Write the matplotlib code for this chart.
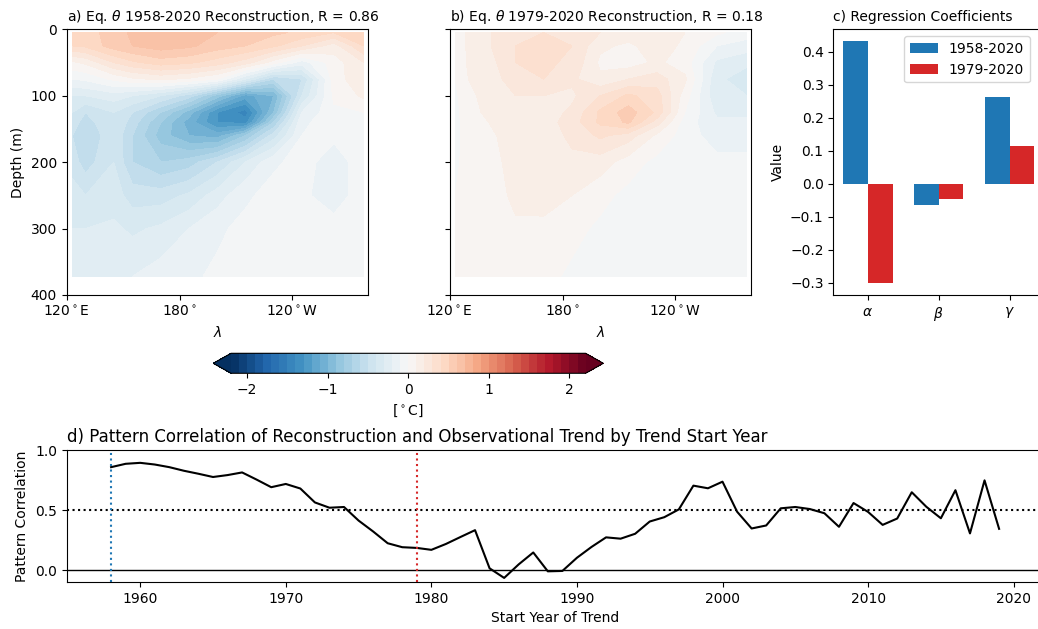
import numpy as np
import matplotlib
matplotlib.use('Agg')
import matplotlib.pyplot as plt

######################
# DATA
######################

lon = [123, 130, 145, 155, 170, 185, 200, 215, 230, 245, 262, 278]
depth = [5, 25, 50, 75, 100, 125, 140, 160, 200, 250, 300, 372]

# panel a: 1958-2020 reconstruction [degC], rows = depth, cols = lon
recon_1958 = [
    [0.45, 0.45, 0.55, 0.62, 0.68, 0.65, 0.60, 0.55, 0.52, 0.48, 0.40, 0.50],
    [0.40, 0.42, 0.55, 0.60, 0.65, 0.62, 0.55, 0.50, 0.42, 0.30, 0.15, 0.40],
    [0.08, 0.12, 0.30, 0.38, 0.45, 0.42, 0.35, 0.25, 0.05, -0.15, 0.05, 0.20],
    [-0.10, -0.08, 0.02, 0.08, 0.12, 0.08, 0.00, -0.30, -0.60, -0.50, 0.05, 0.18],
    [-0.30, -0.30, -0.25, -0.30, -0.40, -0.55, -0.85, -1.15, -1.00, -0.40, 0.02, 0.12],
    [-0.40, -0.50, -0.40, -0.50, -0.70, -0.95, -1.30, -1.45, -0.90, -0.20, -0.02, 0.00],
    [-0.45, -0.55, -0.40, -0.55, -0.80, -1.05, -1.30, -1.35, -0.70, -0.12, -0.05, -0.05],
    [-0.50, -0.60, -0.42, -0.60, -0.85, -1.00, -1.05, -0.80, -0.45, -0.10, -0.08, -0.05],
    [-0.45, -0.55, -0.40, -0.60, -0.70, -0.65, -0.50, -0.30, -0.12, -0.06, -0.15, -0.05],
    [-0.35, -0.40, -0.35, -0.45, -0.45, -0.38, -0.25, -0.12, -0.06, -0.08, -0.15, -0.05],
    [-0.30, -0.30, -0.28, -0.32, -0.28, -0.20, -0.12, -0.07, -0.05, -0.05, -0.06, -0.05],
    [-0.20, -0.20, -0.20, -0.20, -0.15, -0.12, -0.08, -0.05, -0.05, -0.05, -0.05, -0.05],
]

# panel b: 1979-2020 reconstruction [degC]
recon_1979 = [
    [0.02, 0.12, 0.22, 0.30, 0.30, 0.28, 0.20, 0.15, 0.15, 0.10, 0.02, -0.05],
    [0.02, 0.12, 0.22, 0.30, 0.32, 0.30, 0.12, 0.08, 0.15, 0.08, -0.10, -0.15],
    [0.00, 0.12, 0.20, 0.30, 0.32, 0.28, 0.08, 0.05, 0.12, 0.05, -0.22, -0.28],
    [0.00, 0.10, 0.18, 0.25, 0.30, 0.22, 0.12, 0.20, 0.25, 0.12, -0.28, -0.35],
    [-0.02, 0.08, 0.15, 0.20, 0.20, 0.18, 0.30, 0.42, 0.35, 0.05, -0.28, -0.30],
    [-0.03, 0.06, 0.15, 0.15, 0.15, 0.22, 0.42, 0.55, 0.38, 0.00, -0.22, -0.22],
    [-0.03, 0.05, 0.12, 0.12, 0.15, 0.25, 0.42, 0.52, 0.25, -0.05, -0.18, -0.18],
    [-0.03, 0.04, 0.10, 0.12, 0.15, 0.22, 0.32, 0.25, 0.08, -0.05, -0.15, -0.15],
    [-0.02, 0.04, 0.08, 0.15, 0.15, 0.18, 0.15, 0.05, -0.03, -0.05, -0.07, -0.07],
    [0.00, 0.03, 0.06, 0.13, 0.15, 0.10, 0.03, -0.03, -0.05, -0.05, -0.05, -0.05],
    [0.00, 0.03, 0.05, 0.08, 0.07, 0.03, -0.02, -0.04, -0.05, -0.05, -0.05, -0.05],
    [0.00, 0.03, 0.04, 0.05, 0.03, -0.02, -0.04, -0.05, -0.05, -0.05, -0.05, -0.05],
]

# panel c: regression coefficients
coef_names = [r'$\alpha$', r'$\beta$', r'$\gamma$']
coef_1958 = [0.432, -0.063, 0.262]
coef_1979 = [-0.300, -0.045, 0.115]

# panel d: pattern correlation by trend start year
start_years = list(range(1958, 2020))
pattern_corr = [
    0.857, 0.885, 0.893, 0.879, 0.857, 0.827, 0.802, 0.775, 0.791, 0.813,
    0.753, 0.690, 0.717, 0.679, 0.563, 0.519, 0.525, 0.412, 0.321, 0.223,
    0.190, 0.184, 0.168, 0.217, 0.275, 0.332, 0.014, -0.066, 0.047, 0.146,
    -0.011, -0.008, 0.102, 0.192, 0.272, 0.261, 0.302, 0.404, 0.440, 0.505,
    0.703, 0.681, 0.736, 0.486, 0.346, 0.371, 0.514, 0.525, 0.508, 0.473,
    0.360, 0.558, 0.484, 0.376, 0.429, 0.648, 0.527, 0.431, 0.665, 0.305,
    0.747, 0.343,
]

##########
# PLOTTING
##########

W, H = 1038, 629
fig = plt.figure(figsize=(W / 100, H / 100), dpi=100)

levels = np.round(np.arange(-2.2, 2.21, 0.1), 2)

ax_a = fig.add_axes([66.7 / W, 1 - 295 / H, 301 / W, 265.7 / H])
ax_b = fig.add_axes([449.7 / W, 1 - 295 / H, 301 / W, 265.7 / H])
ax_c = fig.add_axes([833.3 / W, 1 - 295 / H, 210.7 / W, 265.7 / H])
cax = fig.add_axes([213.3 / W, 1 - 373.3 / H, 390 / W, 20 / H])
ax_d = fig.add_axes([66.7 / W, 1 - 582 / H, 976.8 / W, 132 / H])

titles = [r'a) Eq. $\theta$ 1958-2020 Reconstruction, R = 0.86',
          r'b) Eq. $\theta$ 1979-2020 Reconstruction, R = 0.18']
for ax, field, title in zip([ax_a, ax_b], [recon_1958, recon_1979], titles):
    cf = ax.contourf(lon, depth, np.array(field), levels=levels,
                     cmap='RdBu_r', extend='both')
    ax.set_xlim(120, 280)
    ax.set_ylim(400, 0)
    ax.set_xticks([120, 180, 240])
    ax.set_xticklabels([r'120$^\circ$E', r'180$^\circ$', r'120$^\circ$W'])
    ax.set_yticks([0, 100, 200, 300, 400])
    ax.set_xlabel(r'$\lambda$')
    ax.set_title(title, loc='left', fontsize=10)

ax_a.set_ylabel('Depth (m)')
ax_b.set_yticklabels([])

cb = fig.colorbar(cf, cax=cax, orientation='horizontal', ticks=[-2, -1, 0, 1, 2])
cb.set_label(r'[$^\circ$C]')

# bar chart
x = np.arange(len(coef_names))
w = 0.35
ax_c.bar(x - w / 2, coef_1958, w, color='tab:blue', label='1958-2020')
ax_c.bar(x + w / 2, coef_1979, w, color='tab:red', label='1979-2020')
ax_c.set_xticks(x)
ax_c.set_xticklabels(coef_names)
ax_c.set_ylabel('Value')
ax_c.set_title('c) Regression Coefficients', loc='left', fontsize=10)
ax_c.legend(loc='upper right', bbox_to_anchor=(0.965, 1.0))

# pattern correlation
ax_d.plot(start_years, pattern_corr, color='k', lw=1.5)
ax_d.axhline(0, color='k', lw=1)
ax_d.axhline(0.5, color='k', ls=':', lw=1.5)
ax_d.axvline(1958, color='tab:blue', ls=':', lw=1.5)
ax_d.axvline(1979, color='tab:red', ls=':', lw=1.5)
ax_d.set_ylim(-0.1, 1.0)
ax_d.set_yticks([0, 0.5, 1.0])
ax_d.set_xlabel('Start Year of Trend')
ax_d.set_ylabel('Pattern Correlation')
ax_d.set_title('d) Pattern Correlation of Reconstruction and Observational Trend by Trend Start Year',
               loc='left', fontsize=12)

fig.savefig('out.png', dpi=100)
